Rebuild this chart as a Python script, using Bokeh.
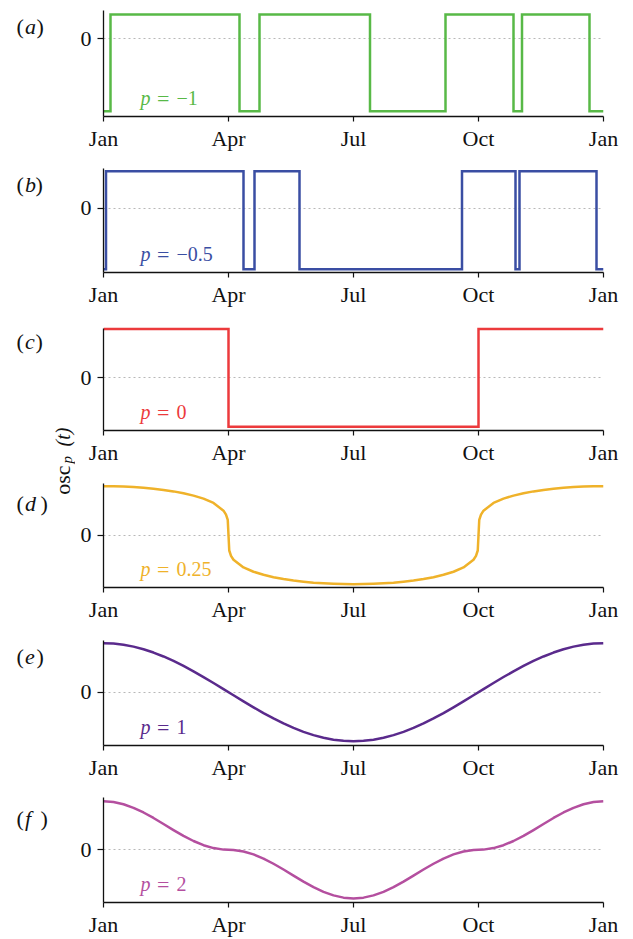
from bokeh.plotting import figure
from bokeh.layouts import row, column
from bokeh.models import Range1d, FixedTicker
from bokeh.embed import file_html
from bokeh.resources import INLINE
from bokeh.core.properties import value

# Time axis: fraction of the year, with quarterly month ticks
month_ticks = [0, 0.25, 0.5, 0.75, 1]
month_labels = ["Jan", "Apr", "Jul", "Oct", "Jan"]

# (a) p = -1: switching times and the level held after each switch
a_t = [0.0, 0.014, 0.272, 0.312, 0.533, 0.684, 0.820, 0.837, 0.972, 1.0]
a_y = [-1.73, 0.58, -1.73, 0.58, -1.73, 0.58, -1.73, 0.58, -1.73, -1.73]

# (b) p = -0.5
b_t = [0.0, 0.005, 0.280, 0.302, 0.392, 0.717, 0.824, 0.832, 0.986, 1.0]
b_y = [-1.29, 0.78, -1.29, 0.78, -1.29, 0.78, -1.29, 0.78, -1.29, -1.29]

# (c) p = 0
c_t = [0.0, 0.25, 0.75, 1.0]
c_y = [1.0, -1.0, 1.0, 1.0]

# (d) p = 0.25
d_t = [0.00, 0.02, 0.04, 0.06, 0.08, 0.10, 0.12, 0.14, 0.16, 0.18, 0.20, 0.22,
       0.24, 0.245, 0.2485, 0.25, 0.2515, 0.255, 0.26, 0.28, 0.30, 0.32, 0.34,
       0.36, 0.38, 0.40, 0.42, 0.44, 0.46, 0.48, 0.50, 0.52, 0.54, 0.56, 0.58,
       0.60, 0.62, 0.64, 0.66, 0.68, 0.70, 0.72, 0.74, 0.745, 0.7485, 0.75,
       0.7515, 0.755, 0.76, 0.78, 0.80, 0.82, 0.84, 0.86, 0.88, 0.90, 0.92,
       0.94, 0.96, 0.98, 1.00]
d_y = [1.000, 0.998, 0.992, 0.982, 0.968, 0.948, 0.924, 0.894, 0.856, 0.808,
       0.746, 0.658, 0.501, 0.421, 0.312, 0.0, -0.312, -0.421, -0.501, -0.658,
       -0.746, -0.808, -0.856, -0.894, -0.924, -0.948, -0.968, -0.982, -0.992,
       -0.998, -1.000, -0.998, -0.992, -0.982, -0.968, -0.948, -0.924, -0.894,
       -0.856, -0.808, -0.746, -0.658, -0.501, -0.421, -0.312, 0.0, 0.312,
       0.421, 0.501, 0.658, 0.746, 0.808, 0.856, 0.894, 0.924, 0.948, 0.968,
       0.982, 0.992, 0.998, 1.000]

# (e) and (f) share one sampling of the year
ef_t = [0.00, 0.02, 0.04, 0.06, 0.08, 0.10, 0.12, 0.14, 0.16, 0.18, 0.20,
        0.22, 0.24, 0.26, 0.28, 0.30, 0.32, 0.34, 0.36, 0.38, 0.40, 0.42,
        0.44, 0.46, 0.48, 0.50, 0.52, 0.54, 0.56, 0.58, 0.60, 0.62, 0.64,
        0.66, 0.68, 0.70, 0.72, 0.74, 0.76, 0.78, 0.80, 0.82, 0.84, 0.86,
        0.88, 0.90, 0.92, 0.94, 0.96, 0.98, 1.00]

# (e) p = 1
e_y = [1.000, 0.992, 0.969, 0.930, 0.876, 0.809, 0.729, 0.637, 0.536, 0.426,
       0.309, 0.187, 0.063, -0.063, -0.187, -0.309, -0.426, -0.536, -0.637,
       -0.729, -0.809, -0.876, -0.930, -0.969, -0.992, -1.000, -0.992, -0.969,
       -0.930, -0.876, -0.809, -0.729, -0.637, -0.536, -0.426, -0.309, -0.187,
       -0.063, 0.063, 0.187, 0.309, 0.426, 0.536, 0.637, 0.729, 0.809, 0.876,
       0.930, 0.969, 0.992, 1.000]

# (f) p = 2
f_y = [1.000, 0.984, 0.938, 0.864, 0.768, 0.655, 0.531, 0.406, 0.287, 0.181,
       0.095, 0.035, 0.004, -0.004, -0.035, -0.095, -0.181, -0.287, -0.406,
       -0.531, -0.655, -0.768, -0.864, -0.938, -0.984, -1.000, -0.984, -0.938,
       -0.864, -0.768, -0.655, -0.531, -0.406, -0.287, -0.181, -0.095, -0.035,
       -0.004, 0.004, 0.035, 0.095, 0.181, 0.287, 0.406, 0.531, 0.655, 0.768,
       0.864, 0.938, 0.984, 1.000]

p_values = ["\u22121", "\u22120.5", "0", "0.25", "1", "2"]
panel_letters = ["a", "b", "c", "d", "e", "f"]

SERIF = "Liberation Serif"
FRAME_W = 500
PAGE_H = 939
STRIP_W = 75
FRAME_LEFT = 103

# per panel: series, colour, y-range, axis top, borders and frame height
panels = [
    dict(t=a_t, y=a_y, step=True, color="#58b947", lo=-1.854, hi=0.675, ax_top=None, top=10, fh=106, bottom=41),
    dict(t=b_t, y=b_y, step=True, color="#3a4ea3", lo=-1.357, hi=0.838, ax_top=None, top=11, fh=104, bottom=42),
    dict(t=c_t, y=c_y, step=True, color="#ec3a3c", lo=-1.079, hi=1.050, ax_top=1.0, top=12, fh=104, bottom=41),
    dict(t=d_t, y=d_y, step=False, color="#efb22a", lo=-1.067, hi=1.055, ax_top=None, top=12, fh=104, bottom=41),
    dict(t=ef_t, y=e_y, step=False, color="#5a2a8c", lo=-1.088, hi=1.055, ax_top=None, top=12, fh=105, bottom=40),
    dict(t=ef_t, y=f_y, step=False, color="#b44f9f", lo=-1.084, hi=1.076, ax_top=None, top=12, fh=105, bottom=37),
]


def make_panel(spec, pval):
    fig = figure(frame_width=FRAME_W, frame_height=spec["fh"],
                 min_border_left=FRAME_LEFT - STRIP_W,
                 min_border_right=633 - FRAME_LEFT - FRAME_W,
                 min_border_top=spec["top"], min_border_bottom=spec["bottom"],
                 x_range=Range1d(0, 1), y_range=Range1d(spec["lo"], spec["hi"]),
                 output_backend="svg", toolbar_location=None)
    fig.outline_line_color = None
    fig.border_fill_color = "white"
    fig.background_fill_color = "white"

    fig.xgrid.visible = False
    fig.ygrid.ticker = FixedTicker(ticks=[0])
    fig.ygrid.grid_line_color = "#b8b8b8"
    fig.ygrid.grid_line_dash = "2 3"
    fig.ygrid.grid_line_width = 1

    xa = fig.xaxis[0]
    xa.ticker = FixedTicker(ticks=month_ticks)
    xa.major_label_overrides = {k: lab for k, lab in zip(month_ticks, month_labels)}
    ya = fig.yaxis[0]
    ya.ticker = FixedTicker(ticks=[0])
    if spec["ax_top"] is not None:
        ya.bounds = (spec["lo"], spec["ax_top"])
    for ax, out in ((xa, 5), (ya, 6)):
        ax.axis_line_color = "#111111"
        ax.axis_line_width = 1.3
        ax.major_tick_line_color = "#111111"
        ax.major_tick_line_width = 1.2
        ax.major_tick_out = out
        ax.major_tick_in = 0
        ax.minor_tick_line_color = None
        ax.major_label_text_font = SERIF
        ax.major_label_text_font_size = "22px"
        ax.major_label_text_color = "#111111"
    xa.major_label_standoff = 4
    ya.major_label_standoff = 6

    if spec["step"]:
        fig.step(spec["t"], spec["y"], mode="after", line_width=2.5,
                 line_color=spec["color"], line_join="miter")
    else:
        fig.line(spec["t"], spec["y"], line_width=2.5, line_color=spec["color"],
                 line_join="round")

    # "p = value" tag sitting just above the time axis
    ly = spec["lo"] + 18.5 * (spec["hi"] - spec["lo"]) / spec["fh"]
    common = dict(text_font=value(SERIF), text_color=spec["color"],
                  text_baseline="alphabetic", text_align="left")
    fig.text(x=[0.074], y=[ly], text=["p"], text_font_size="20px",
             text_font_style="italic", **common)
    fig.text(x=[0.107], y=[ly], text=["="], text_font_size="22px", **common)
    fig.text(x=[0.146], y=[ly], text=[pval], text_font_size="20px", **common)
    return fig


figs = [make_panel(s, v) for s, v in zip(panels, p_values)]

# left strip holding the panel letters and the shared y label;
# its data units are pixels measured up from the bottom of the page
strip = figure(width=STRIP_W, height=PAGE_H, x_range=Range1d(0, STRIP_W),
               y_range=Range1d(0, PAGE_H), min_border=0,
               x_axis_location=None, y_axis_location=None,
               output_backend="svg", toolbar_location=None)
strip.outline_line_color = None
strip.grid.visible = False

letter_top = [26, 184, 341, 503, 656, 818]          # baselines, from the top
letter_base = [PAGE_H - v for v in letter_top]
close_x = [36, 35, 35, 40, 36, 40]
tag = dict(text_font=value(SERIF), text_font_size="22px", text_color="#111111",
           text_baseline="alphabetic", text_align="left")
strip.text(x=[16] * 6, y=letter_base, text=["("] * 6, **tag)
strip.text(x=[24.5] * 6, y=letter_base, text=panel_letters, text_font_style="italic", **tag)
strip.text(x=close_x, y=letter_base, text=[")"] * 6, **tag)

# y label osc_p(t), reading upwards; each piece is anchored at its upper end
rot = dict(text_font=value(SERIF), text_color="#111111", text_baseline="alphabetic",
           text_align="right", angle=1.5708)
strip.text(x=[62], y=[PAGE_H - 465], text=["osc"], text_font_size="22px", **rot)
strip.text(x=[66.5], y=[PAGE_H - 455.5], text=["p"], text_font_size="15px",
           text_font_style="italic", **rot)
strip.text(x=[62], y=[PAGE_H - 427], text=["(t)"], text_font_size="20px",
           text_font_style="italic", **rot)

layout = row(strip, column(*figs))

with open("out.html", "w") as fh:
    fh.write(file_html(layout, INLINE))
